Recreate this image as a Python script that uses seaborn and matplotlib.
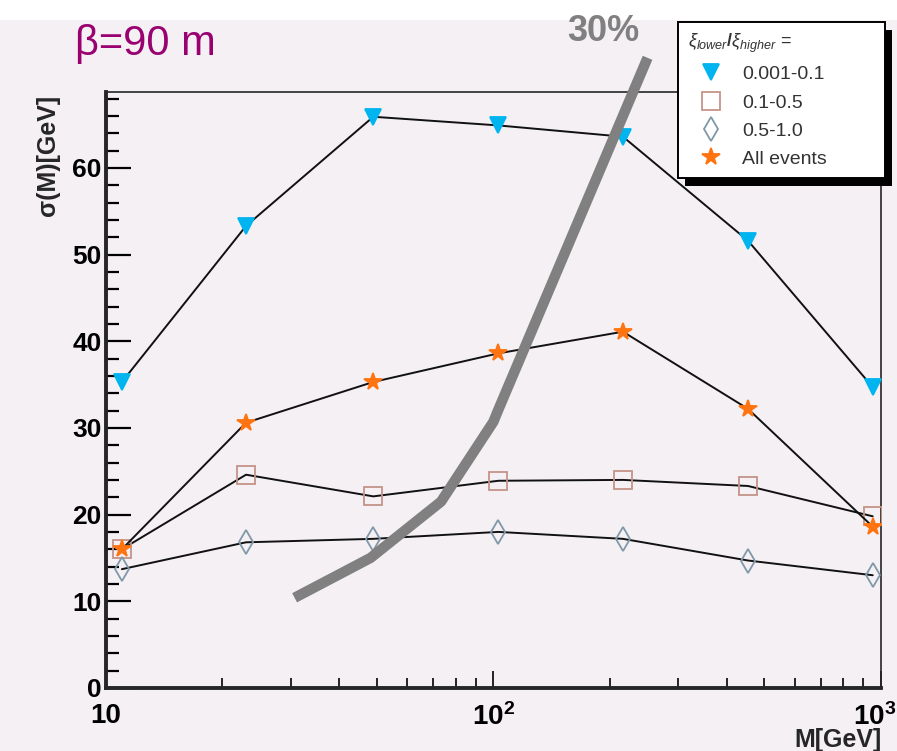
import matplotlib
matplotlib.use("Agg")
import matplotlib.pyplot as plt
import matplotlib.transforms as mtransforms
import numpy as np
import pandas as pd
import seaborn as sns
from matplotlib.lines import Line2D
from matplotlib.patches import Rectangle
from matplotlib.ticker import FixedLocator, FixedFormatter, MultipleLocator, NullFormatter

# data
mass = [11, 23, 49, 103, 216, 454, 953]
sigma_low = [35.3, 53.3, 65.9, 64.9, 63.6, 51.6, 34.7]
sigma_mid = [16.0, 24.6, 22.1, 23.9, 24.0, 23.3, 19.8]
sigma_high = [13.7, 16.8, 17.2, 18.0, 17.2, 14.7, 13.0]
sigma_all = [16.0, 30.6, 35.3, 38.6, 41.1, 32.2, 18.6]
labels = ["0.001-0.1", "0.1-0.5", "0.5-1.0", "All events"]

cut_mass = [30.7, 48.2, 73.3, 100, 103, 250]
cut_sigma = [10.4, 15.0, 21.5, 30.7, 32.1, 72.7]

bg = "#f4f0f4"
sns.set_style("ticks", {"axes.facecolor": bg, "figure.facecolor": bg})
plt.rcParams["font.family"] = ["Liberation Sans", "DejaVu Sans"]
plt.rcParams["mathtext.fontset"] = "custom"
plt.rcParams["mathtext.rm"] = "Liberation Sans:bold"
plt.rcParams["mathtext.it"] = "Liberation Sans:italic"
plt.rcParams["mathtext.bf"] = "Liberation Sans:bold"

fig = plt.figure(figsize=(8.97, 7.51), dpi=100)
# white strip on top of the picture
fig.add_artist(Rectangle((0, 0.973), 1, 0.027, transform=fig.transFigure,
                         facecolor="white", edgecolor="none", zorder=-1))
ax = fig.add_axes([0.118, 0.084, 0.864, 0.794])

styles = [
    (sigma_low, "v", "#00b4f0", "#00b4f0", 11),
    (sigma_mid, "s", "none", "#c49488", 13),
    (sigma_high, "d", "none", "#8098a8", 12),
    (sigma_all, "*", "#ff7410", "#ff7410", 13),
]
handles = []
for (vals, mk, fc, ec, ms), lab in zip(styles, labels):
    df = pd.DataFrame({"M": mass, "sigma": vals})
    sns.lineplot(data=df, x="M", y="sigma", ax=ax, color="#111111", lw=1.4,
                 marker=mk, markersize=ms, markerfacecolor=fc,
                 markeredgecolor=ec, markeredgewidth=1.3, zorder=3)
    handles.append(Line2D([], [], ls="none", marker=mk, markersize=ms,
                          markerfacecolor=fc, markeredgecolor=ec,
                          markeredgewidth=1.3, label=lab))

# 30% line overlay
ax.plot(cut_mass, cut_sigma, color="#808080", lw=7.5, clip_on=False,
        zorder=4, solid_capstyle="butt")

ax.set_xscale("log")
ax.set_xlim(10, 1000)
ax.set_ylim(0, 68.8)
ax.set_xlabel("")
ax.set_ylabel("")

ax.xaxis.set_major_locator(FixedLocator([10, 100, 1000]))
ax.xaxis.set_major_formatter(FixedFormatter(["10", r"$\mathrm{10^{2}}$", r"$\mathrm{10^{3}}$"]))
ax.xaxis.set_minor_locator(FixedLocator([20, 30, 40, 50, 60, 70, 80, 90,
                                         200, 300, 400, 500, 600, 700, 800, 900]))
ax.xaxis.set_minor_formatter(NullFormatter())
ax.yaxis.set_major_locator(MultipleLocator(10))
ax.yaxis.set_minor_locator(MultipleLocator(2))

ax.tick_params(which="both", direction="in", top=False, right=False, colors="black")
ax.tick_params(axis="y", which="major", length=18, width=1.6, pad=3)
ax.tick_params(axis="y", which="minor", length=9.5, width=1.6)
ax.tick_params(axis="x", which="major", length=12, width=1.2, pad=11)
ax.tick_params(axis="x", which="minor", length=7, width=1.2)
for lab in ax.get_xticklabels() + ax.get_yticklabels():
    lab.set_fontsize(20)
    lab.set_fontweight("bold")
for lab in ax.get_yticklabels():
    lab.set_fontsize(19)
# keep the 10^3 label inside the picture
last = ax.get_xticklabels()[-1]
last.set_transform(last.get_transform() +
                   mtransforms.ScaledTranslation(-6 / 100, 0, fig.dpi_scale_trans))

ax.spines["left"].set_linewidth(2.8)
ax.spines["bottom"].set_linewidth(2.8)
ax.spines["top"].set_linewidth(1.2)
ax.spines["right"].set_linewidth(1.2)

leg = fig.legend(handles=handles, loc="upper left", mode="expand",
                 bbox_to_anchor=(0.7559, 0.767, 0.2308, 0.2037),
                 borderaxespad=0,
                 title=r"$\xi_{\it lower}/\xi_{\it higher}$ =", fontsize=14,
                 title_fontsize=13, frameon=True, fancybox=False,
                 edgecolor="black", framealpha=1, handlelength=2.4,
                 handletextpad=0.4, borderpad=0.5, labelspacing=0.55,
                 alignment="left")
leg.set_zorder(6)
leg.get_frame().set_facecolor("white")
leg.get_frame().set_linewidth(1.4)
for t in leg.get_texts():
    t.set_color("#333333")
leg.get_title().set_color("#333333")

# solid black shadow under the legend box
fig.canvas.draw()
bb = leg.get_window_extent()
inv = fig.transFigure.inverted()
(x0, y0) = inv.transform((bb.x0 + 7, bb.y0 - 8))
(x1, y1) = inv.transform((bb.x1 + 7, bb.y1 - 8))
fig.add_artist(Rectangle((x0, y0), x1 - x0, y1 - y0, transform=fig.transFigure,
                         facecolor="black", edgecolor="none", zorder=5.5))

fig.text(0.084, 0.927, "β=90 m", color="#990070", fontsize=30, ha="left", va="baseline")
fig.text(0.632, 0.945, "30%", color="#808080", fontsize=26, fontweight="bold",
         ha="left", va="baseline")
fig.text(0.053, 0.874, "σ(M)[GeV]", rotation=90, fontsize=18, fontweight="bold",
         ha="center", va="top")
fig.text(0.983, 0.015, "M[GeV]", fontsize=18, fontweight="bold",
         ha="right", va="center")

fig.savefig("out.png", dpi=100, facecolor=bg)
